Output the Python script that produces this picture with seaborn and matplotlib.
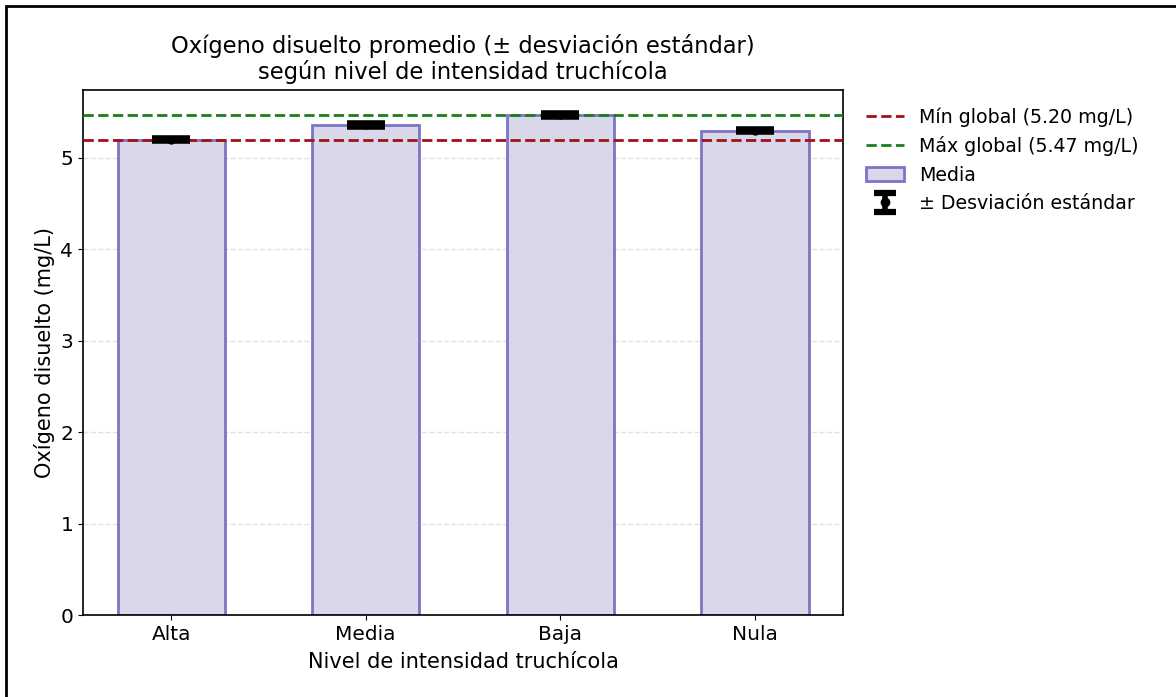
import matplotlib
matplotlib.use("Agg")
import matplotlib.pyplot as plt
import matplotlib.patches as mpatches
import numpy as np
import seaborn as sns

sns.set_style("ticks")
plt.rcParams['font.family'] = ['DejaVu Sans']
plt.rcParams['text.color'] = 'black'
plt.rcParams['axes.labelcolor'] = 'black'
plt.rcParams['xtick.color'] = 'black'
plt.rcParams['ytick.color'] = 'black'

# data
niveles = ["Alta", "Media", "Baja", "Nula"]
medias = [5.20, 5.36, 5.47, 5.30]
desv = [0.02, 0.02, 0.025, 0.02]
min_global = 5.20
max_global = 5.47

bar_face = "#d8d8ea"
bar_edge = "#7d74c4"
width = 0.55

fig = plt.figure(figsize=(11.76, 6.97), dpi=100)
ax = fig.add_axes([0.0706, 0.1176, 0.6463, 0.7533])

sns.barplot(x=niveles, y=medias, width=width, color=bar_face, edgecolor=bar_edge,
            linewidth=2, saturation=1, errorbar=None, ax=ax, zorder=2)
ax.errorbar(np.arange(len(niveles)), medias, yerr=desv, fmt="o", color="black",
            markersize=5, elinewidth=4, capsize=14, capthick=4, zorder=4)

ax.axhline(min_global, color="#a50f15", ls="--", lw=2, zorder=3)
ax.axhline(max_global, color="#1a7f1a", ls="--", lw=2, zorder=3)

n = len(niveles)
pad = 0.05 * (n - 1 + width)
ax.set_xlim(-width / 2 - pad, n - 1 + width / 2 + pad)
ax.set_ylim(0, max(medias) * 1.05)
ax.set_yticks(range(0, 6))
ax.yaxis.grid(True, ls="--", color="#cccccc", alpha=0.6, lw=1)
ax.set_axisbelow(True)
for s in ax.spines.values():
    s.set_color("black")
    s.set_linewidth(1.2)

ax.tick_params(labelsize=14.5)
ax.set_xlabel("Nivel de intensidad truchícola", fontsize=15, labelpad=6)
ax.set_ylabel("Oxígeno disuelto (mg/L)", fontsize=15)
ax.set_title("Oxígeno disuelto promedio (± desviación estándar)\nsegún nivel de intensidad truchícola",
             fontsize=16.3, pad=8, linespacing=1.1)

# legend handle for the error bar (dummy point, not drawn in the axes)
eb_handle = ax.errorbar([0], [np.nan], yerr=[1], fmt="o", color="black", markersize=6,
                        elinewidth=4, capsize=8, capthick=4.5)
handles = [
    plt.Line2D([], [], color="#a50f15", ls="--", lw=2),
    plt.Line2D([], [], color="#1a7f1a", ls="--", lw=2),
    mpatches.Patch(facecolor=bar_face, edgecolor=bar_edge, linewidth=2),
    eb_handle,
]
labels = [f"Mín global ({min_global:.2f} mg/L)", f"Máx global ({max_global:.2f} mg/L)",
          "Media", "± Desviación estándar"]
ax.legend(handles, labels, loc="upper left", bbox_to_anchor=(1.007, 1.0),
          frameon=False, fontsize=13.7)

# thin black frame seen around the picture
fig.add_artist(mpatches.Rectangle((6 / 1176, -0.1), 1.2, 1 - 6 / 697 + 0.1,
                                  transform=fig.transFigure, fill=False,
                                  edgecolor="black", linewidth=2))

fig.savefig("out.png", dpi=100)
